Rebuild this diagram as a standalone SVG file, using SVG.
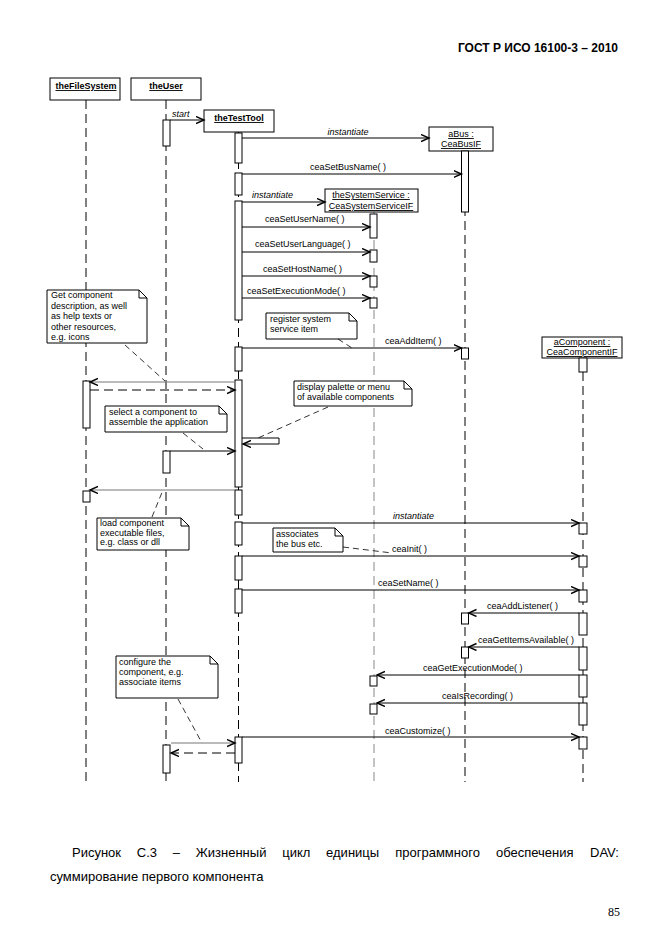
<svg xmlns="http://www.w3.org/2000/svg" width="661" height="936" viewBox="0 0 661 936">
<defs>
<marker id="arr" markerUnits="userSpaceOnUse" markerWidth="10" markerHeight="9" refX="8" refY="4" orient="auto"><path d="M0,0.5 L8,4 L0,7.5" fill="none" stroke="#000" stroke-width="1.4"/></marker>
<marker id="arrg" markerUnits="userSpaceOnUse" markerWidth="10" markerHeight="9" refX="8" refY="4" orient="auto"><path d="M0,0.5 L8,4 L0,7.5" fill="none" stroke="#000" stroke-width="1.4"/></marker>
</defs>
<style>
.box{fill:#fff;stroke:#000;stroke-width:1}
.life{stroke:#000;stroke-width:1;stroke-dasharray:9 5;fill:none}
.lifeg{stroke:#888;stroke-width:1;stroke-dasharray:9 5;fill:none}
.act{fill:#fff;stroke:#000;stroke-width:1}
.msg{stroke:#000;stroke-width:1;fill:none;marker-end:url(#arr)}
.msgg{stroke:#777;stroke-width:1;fill:none;marker-end:url(#arrg)}
.ret{stroke-dasharray:9 5}
.note{fill:#fff;stroke:#000;stroke-width:1}
.nl{stroke:#000;stroke-width:0.8;stroke-dasharray:6 4;fill:none}
.t{font-family:'Liberation Sans',Arial,sans-serif;font-size:9px;fill:#000}
.it{font-style:italic}
.u{text-decoration:underline}
.b{font-weight:bold}
.m{text-anchor:middle}
.cap{font-family:'Liberation Sans',Arial,sans-serif;font-size:13px;fill:#000}
</style>
<rect width="661" height="936" fill="#fff"/>
<text x="618" y="52" class="cap" style="font-weight:bold;font-size:12px" text-anchor="end">ГОСТ Р ИСО 16100-3 – 2010</text>

<g id="lifelines">
<line class="life" x1="86" y1="100" x2="86" y2="782"/>
<line class="life" x1="166" y1="100" x2="166" y2="782"/>
<line class="life" x1="238.5" y1="132" x2="238.5" y2="782"/>
<line class="life" x1="465" y1="151" x2="465" y2="782"/>
<line class="lifeg" x1="374" y1="212" x2="374" y2="782"/>
<line class="life" x1="583" y1="358" x2="583" y2="782"/>
</g>

<g id="theFileSystem">
<rect class="box" x="50" y="78" width="70" height="22"/>
<text class="t b u m" x="86" y="89">theFileSystem</text>
<rect class="act" x="83" y="381" width="7" height="47"/>
<rect class="act" x="83" y="491" width="7" height="11"/>
</g>
<g id="theUser">
<rect class="box" x="131" y="78" width="70" height="22"/>
<text class="t b u m" x="166" y="89">theUser</text>
<rect class="act" x="163" y="120" width="7" height="26"/>
<rect class="act" x="163" y="451" width="7" height="22"/>
<rect class="act" x="163" y="745" width="7" height="28"/>
</g>
<g id="theTestTool">
<rect class="box" x="204" y="110" width="70" height="22"/>
<text class="t b u m" x="239" y="121">theTestTool</text>
<rect class="act" x="235" y="133" width="7" height="30"/>
<rect class="act" x="235" y="173" width="7" height="22"/>
<rect class="act" x="235" y="201" width="7" height="119"/>
<rect class="act" x="235" y="347" width="7" height="24"/>
<rect class="act" x="235" y="380" width="7" height="107"/>
<rect class="act" x="235" y="490" width="7" height="25"/>
<rect class="act" x="235" y="522" width="7" height="23"/>
<rect class="act" x="235" y="556" width="7" height="24"/>
<rect class="act" x="235" y="589" width="7" height="24"/>
<rect class="act" x="235" y="737" width="7" height="26"/>
</g>
<g id="aBus">
<rect class="box" x="429" y="127" width="64" height="24"/>
<text class="t u m" x="461" y="137">aBus :</text>
<text class="t u m" x="461" y="147">CeaBusIF</text>
<rect class="act" x="461.5" y="151" width="7" height="61"/>
<rect class="act" x="461.5" y="348" width="7" height="11"/>
<rect class="act" x="461.5" y="613" width="7" height="11"/>
<rect class="act" x="461.5" y="647" width="7" height="11"/>
</g>
<g id="theSystemService">
<rect class="box" x="325" y="189" width="93" height="23"/>
<text class="t u m" x="371" y="198">theSystemService :</text>
<text class="t u m" x="371" y="209">CeaSystemServiceIF</text>
<rect class="act" x="370" y="214" width="7" height="24"/>
<rect class="act" x="370" y="250" width="7" height="12"/>
<rect class="act" x="370" y="276" width="7" height="11"/>
<rect class="act" x="370" y="298" width="7" height="10"/>
<rect class="act" x="370" y="676" width="7" height="10"/>
<rect class="act" x="370" y="704" width="7" height="10"/>
</g>
<g id="aComponent">
<rect class="box" x="542" y="337" width="80" height="21"/>
<text class="t u m" x="582" y="345">aComponent :</text>
<text class="t u m" x="582" y="355">CeaComponentIF</text>
<rect class="act" x="579" y="358" width="8" height="14"/>
<rect class="act" x="579" y="523" width="8" height="11"/>
<rect class="act" x="579" y="556" width="8" height="11"/>
<rect class="act" x="579" y="590" width="8" height="12"/>
<rect class="act" x="579" y="613" width="8" height="22"/>
<rect class="act" x="579" y="647" width="8" height="23"/>
<rect class="act" x="579" y="675" width="8" height="22"/>
<rect class="act" x="579" y="703" width="8" height="22"/>
<rect class="act" x="579" y="737" width="8" height="12"/>
</g>

<g id="connectors">
<line class="msg" x1="170" y1="120" x2="204" y2="120"/>
<text class="t it" x="172" y="117">start</text>
<line class="msg" x1="242" y1="138" x2="429" y2="138"/>
<text class="t it m" x="348" y="135">instantiate</text>
<line class="msg" x1="242" y1="174" x2="461.5" y2="174"/>
<text class="t m" x="348" y="170">ceaSetBusName( )</text>
<line class="msg" x1="242" y1="202" x2="325" y2="202"/>
<text class="t it" x="252" y="198">instantiate</text>
<line class="msg" x1="242" y1="227" x2="370" y2="227"/>
<text class="t" x="265" y="222">ceaSetUserName( )</text>
<line class="msg" x1="242" y1="252" x2="370" y2="252"/>
<text class="t" x="255" y="247">ceaSetUserLanguage( )</text>
<line class="msg" x1="242" y1="276" x2="370" y2="276"/>
<text class="t" x="263" y="272">ceaSetHostName( )</text>
<line class="msg" x1="242" y1="298" x2="370" y2="298"/>
<text class="t" x="247" y="294">ceaSetExecutionMode( )</text>
<line class="msg" x1="242" y1="348" x2="461.5" y2="348"/>
<text class="t" x="385" y="344">ceaAddItem( )</text>
<line class="msgg" x1="235" y1="382" x2="90" y2="382"/>
<line class="msg ret" x1="90" y1="390" x2="235" y2="390"/>
<path class="msg" d="M242,438 H279 V444 H243"/>
<line class="msg" x1="170" y1="451" x2="235" y2="451"/>
<line class="msgg" x1="235" y1="490" x2="90" y2="490"/>
<line class="msg" x1="242" y1="523" x2="579" y2="523"/>
<text class="t it" x="393" y="519">instantiate</text>
<line class="msg" x1="242" y1="556" x2="579" y2="556"/>
<text class="t" x="392" y="552">ceaInit( )</text>
<line class="msg" x1="242" y1="590" x2="579" y2="590"/>
<text class="t" x="378" y="586">ceaSetName( )</text>
<line class="msg" x1="579" y1="613" x2="468.5" y2="613"/>
<text class="t" x="487" y="609">ceaAddListener( )</text>
<line class="msg" x1="579" y1="647" x2="468.5" y2="647"/>
<text class="t" x="478" y="643">ceaGetItemsAvailable( )</text>
<line class="msg" x1="579" y1="675" x2="377" y2="675"/>
<text class="t" x="423" y="671">ceaGetExecutionMode( )</text>
<line class="msg" x1="579" y1="703" x2="377" y2="703"/>
<text class="t" x="442" y="699">ceaIsRecording( )</text>
<line class="msg" x1="242" y1="737" x2="579" y2="737"/>
<text class="t" x="385" y="734">ceaCustomize( )</text>
<line class="msgg" x1="171" y1="743" x2="235" y2="743"/>
<line class="msg ret" x1="235" y1="753" x2="171" y2="753"/>
</g>

<g id="note-get-component">
<path class="note" d="M47,290 H139 L147,298 V343 H47 Z M139,290 V298 H147"/>
<text class="t" x="51" y="298">Get component</text>
<text class="t" x="51" y="308.5">description, as well</text>
<text class="t" x="51" y="319">as help texts or</text>
<text class="t" x="51" y="329.5">other resources,</text>
<text class="t" x="51" y="340">e.g. icons</text>
<line class="nl" x1="125" y1="345" x2="165" y2="381"/>
</g>
<g id="note-register">
<path class="note" d="M266,313 H349 L357,321 V339 H266 Z M349,313 V321 H357"/>
<text class="t" x="270" y="322">register system</text>
<text class="t" x="270" y="332">service item</text>
<line class="nl" x1="338" y1="339" x2="352" y2="348"/>
</g>
<g id="note-display">
<path class="note" d="M294,381 H404 L412,389 V406 H294 Z M404,381 V389 H412"/>
<text class="t" x="297" y="390">display palette or menu</text>
<text class="t" x="297" y="400">of available components</text>
<line class="nl" x1="328" y1="407" x2="258" y2="438"/>
</g>
<g id="note-select">
<path class="note" d="M105,406 H219 L227,414 V432 H105 Z M219,406 V414 H227"/>
<text class="t" x="109" y="415">select a component to</text>
<text class="t" x="109" y="425">assemble  the application</text>
<line class="nl" x1="183" y1="433" x2="203" y2="449"/>
</g>
<g id="note-load">
<path class="note" d="M97,518 H181 L189,526 V550 H97 Z M181,518 V526 H189"/>
<text class="t" x="100" y="526">load  component</text>
<text class="t" x="100" y="535.5">executable files,</text>
<text class="t" x="100" y="545">e.g. class  or dll</text>
<line class="nl" x1="152" y1="517" x2="163" y2="490"/>
</g>
<g id="note-associates">
<path class="note" d="M273,528 H335 L343,536 V552 H273 Z M335,528 V536 H343"/>
<text class="t" x="276" y="537">associates</text>
<text class="t" x="276" y="547">the bus etc.</text>
<line class="nl" x1="343" y1="547" x2="392" y2="553"/>
</g>
<g id="note-configure">
<path class="note" d="M116,656 H210 L218,664 V698 H116 Z M210,656 V664 H218"/>
<text class="t" x="119" y="665">configure the</text>
<text class="t" x="119" y="675">component, e.g.</text>
<text class="t" x="119" y="685">associate items</text>
<line class="nl" x1="178" y1="699" x2="202" y2="743"/>
</g>

<text class="cap" y="857"><tspan x="72">Рисунок</tspan><tspan x="136.8">С.3</tspan><tspan x="172.8">–</tspan><tspan x="195.8">Жизненный</tspan><tspan x="282.3">цикл</tspan><tspan x="326.1">единицы</tspan><tspan x="395.2">программного</tspan><tspan x="496">обеспечения</tspan><tspan x="590">DAV:</tspan></text>
<text class="cap" x="50" y="881">суммирование первого компонента</text>
<text x="620" y="916" text-anchor="end" style="font-family:'Liberation Serif','Times New Roman',serif;font-size:12px">85</text>
</svg>
